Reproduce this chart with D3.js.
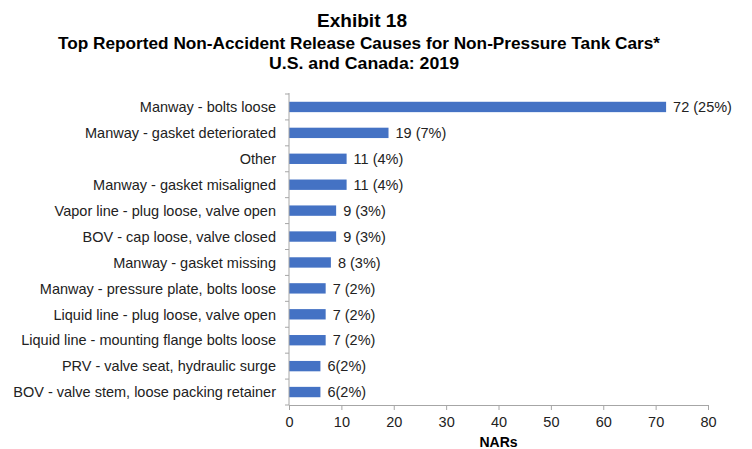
<!DOCTYPE html>
<html><head><meta charset="utf-8">
<script src="https://cdn.jsdelivr.net/npm/d3@7/dist/d3.min.js"></script>
<style>body{margin:0;background:#fff}svg{display:block}</style>
</head><body>
<svg id="c" width="752" height="449"></svg>
<script>
const categories = [
  "Manway - bolts loose",
  "Manway - gasket deteriorated",
  "Other",
  "Manway - gasket misaligned",
  "Vapor line - plug loose, valve open",
  "BOV - cap loose, valve closed",
  "Manway - gasket missing",
  "Manway - pressure plate, bolts loose",
  "Liquid line - plug loose, valve open",
  "Liquid line - mounting flange bolts loose",
  "PRV - valve seat, hydraulic surge",
  "BOV - valve stem, loose packing retainer"
];
const values = [72, 19, 11, 11, 9, 9, 8, 7, 7, 7, 6, 6];
const valueLabels = ["72 (25%)", "19 (7%)", "11 (4%)", "11 (4%)", "9 (3%)", "9 (3%)", "8 (3%)", "7 (2%)", "7 (2%)", "7 (2%)", "6(2%)", "6(2%)"];
const xTicks = [0, 10, 20, 30, 40, 50, 60, 70, 80];
const titleLines = ["Exhibit 18", "Top Reported Non-Accident Release Causes for Non-Pressure Tank Cars*", "U.S. and Canada: 2019"];
const xAxisTitle = "NARs";

(function () {
const svg = d3.select("#c");
const font = "'Liberation Sans', Arial, Helvetica, sans-serif";
const L = 289, R = 708, T = 94, B = 405;
const fs = 14.5;

const x = d3.scaleLinear().domain([0, 80]).range([L, R]);
const y = d3.scaleBand().domain(categories).range([T, B]).paddingInner(0.6).paddingOuter(0.3);
const yb = d3.scaleBand().domain(categories).range([T, B]);

const tspec = [
  {t: titleLines[0], y: 27, size: 19, cx: 362, w: 90},
  {t: titleLines[1], y: 49, size: 16.5, cx: 359, w: 602},
  {t: titleLines[2], y: 69, size: 16.5, cx: 364, w: 190}
];
tspec.forEach(s => {
  svg.append("text").attr("x", s.cx).attr("y", s.y).attr("text-anchor", "middle")
    .attr("font-family", font).attr("font-weight", "bold").attr("font-size", s.size).attr("fill", "#000")
    .attr("textLength", s.w).attr("lengthAdjust", "spacingAndGlyphs").text(s.t);
});

svg.append("g").selectAll("rect").data(categories).join("rect")
  .attr("x", x(0)).attr("y", d => y(d))
  .attr("width", (d, i) => x(values[i]) - x(0)).attr("height", y.bandwidth())
  .attr("fill", "#4472C4");

svg.append("g").selectAll("text").data(categories).join("text")
  .attr("x", (d, i) => x(values[i]) + 7).attr("y", d => y(d) + y.bandwidth() / 2)
  .attr("dy", "0.36em").attr("font-family", font).attr("font-size", fs).attr("fill", "#222")
  .text((d, i) => valueLabels[i]);

const yAxisG = svg.append("g");
yAxisG.append("line").attr("x1", L).attr("x2", L).attr("y1", T - 1).attr("y2", B).attr("stroke", "#a6a6a6");
const bounds = categories.map(c => yb(c)).concat([B]);
yAxisG.selectAll("line.t").data(bounds).join("line").attr("class", "t")
  .attr("x1", L - 4).attr("x2", L).attr("y1", d => d).attr("y2", d => d).attr("stroke", "#a6a6a6");
yAxisG.selectAll("text").data(categories).join("text")
  .attr("x", 276).attr("y", d => yb(d) + yb.bandwidth() / 2).attr("dy", "0.36em")
  .attr("text-anchor", "end").attr("font-family", font).attr("font-size", fs).attr("fill", "#222").text(d => d);

const xAxis = d3.axisBottom(x).tickValues(xTicks).tickSize(5).tickSizeOuter(0).tickPadding(7);
const xg = svg.append("g").attr("transform", `translate(0,${B})`).call(xAxis);
xg.select(".domain").attr("stroke", "#a6a6a6");
xg.selectAll(".tick line").attr("stroke", "#a6a6a6");
xg.selectAll(".tick text").attr("font-family", font).attr("font-size", fs).attr("fill", "#222");

svg.append("text").attr("x", (L + R) / 2).attr("y", 447).attr("text-anchor", "middle")
  .attr("font-family", font).attr("font-weight", "bold").attr("font-size", 14).attr("fill", "#000").text(xAxisTitle);
})();
</script>
</body></html>
